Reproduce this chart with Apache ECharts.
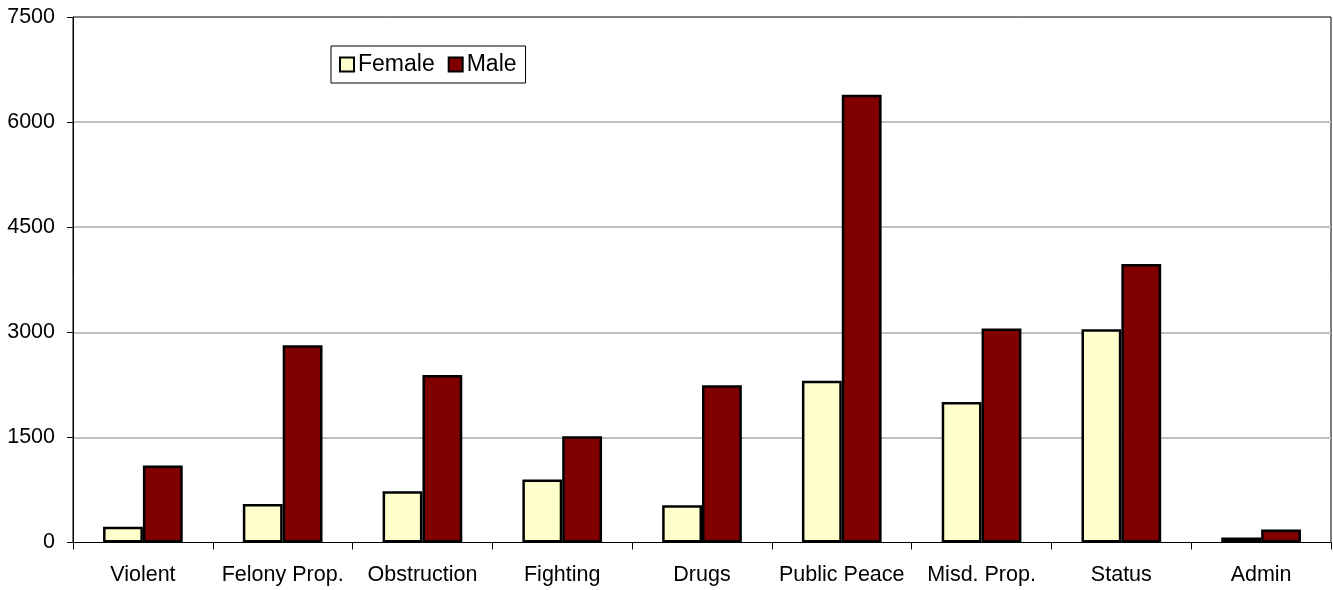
<!DOCTYPE html>
<html>
<head>
<meta charset="utf-8">
<script src="https://cdn.jsdelivr.net/npm/echarts@6/dist/echarts.min.js"></script>
<style>
html,body{margin:0;padding:0;background:#fff;}
#chart{width:1333px;height:590px;}
</style>
</head>
<body>
<div id="chart"></div>
<script>
const categories = ['Violent', 'Felony Prop.', 'Obstruction', 'Fighting', 'Drugs', 'Public Peace', 'Misd. Prop.', 'Status', 'Admin'];
const femaleValues = [225, 550, 730, 900, 530, 2310, 2005, 3045, 70];
const maleValues = [1100, 2815, 2390, 1515, 2245, 6390, 3055, 3975, 185];
const yTicks = [0, 1500, 3000, 4500, 6000, 7500];

const chart = echarts.init(document.getElementById('chart'), null, {renderer: 'canvas'});
const font = 'Liberation Sans, Arial, sans-serif';
chart.setOption({
  animation: false,
  backgroundColor: '#fff',
  grid: {
    left: 73, right: 2, top: 17, bottom: 47.5,
    show: true, borderColor: '#000', borderWidth: 1, backgroundColor: 'transparent'
  },
  legend: {
    left: 331, top: 46,
    orient: 'horizontal',
    backgroundColor: '#fff',
    borderColor: '#000', borderWidth: 1, borderRadius: 0,
    padding: [7, 9, 7, 8],
    itemWidth: 14, itemHeight: 14, itemGap: 13,
    icon: 'rect',
    itemStyle: {borderColor: '#000', borderWidth: 2},
    textStyle: {fontFamily: font, fontSize: 23, color: '#000', padding: [0, 0, 0, -1]},
    data: ['Female', 'Male']
  },
  xAxis: {
    type: 'category',
    data: categories,
    axisLine: {lineStyle: {color: '#000', width: 1}},
    axisTick: {show: true, length: 7, inside: false, alignWithLabel: false, lineStyle: {color: '#000'}},
    axisLabel: {fontFamily: font, fontSize: 21.5, color: '#000', margin: 22, interval: 0},
    splitLine: {show: false}
  },
  yAxis: {
    type: 'value',
    min: 0, max: 7500, interval: 1500,
    axisLine: {show: true, lineStyle: {color: '#000', width: 1}},
    axisTick: {show: true, length: 6, lineStyle: {color: '#000'}},
    axisLabel: {
      fontFamily: font, fontSize: 21.5, color: '#000', margin: 18,
      formatter: v => yTicks.indexOf(v) >= 0 ? String(v) : ''
    },
    splitLine: {show: true, showMinLine: false, showMaxLine: false, lineStyle: {color: '#c0c0c0', width: 2}}
  },
  series: [
    {
      name: 'Female', type: 'bar', data: femaleValues,
      barGap: '0%', barCategoryGap: '43%',
      itemStyle: {color: '#ffffcc', borderColor: '#000', borderWidth: 2.5}
    },
    {
      name: 'Male', type: 'bar', data: maleValues,
      barGap: '0%', barCategoryGap: '43%',
      itemStyle: {color: '#800000', borderColor: '#000', borderWidth: 2.5}
    }
  ]
});
</script>
</body>
</html>
